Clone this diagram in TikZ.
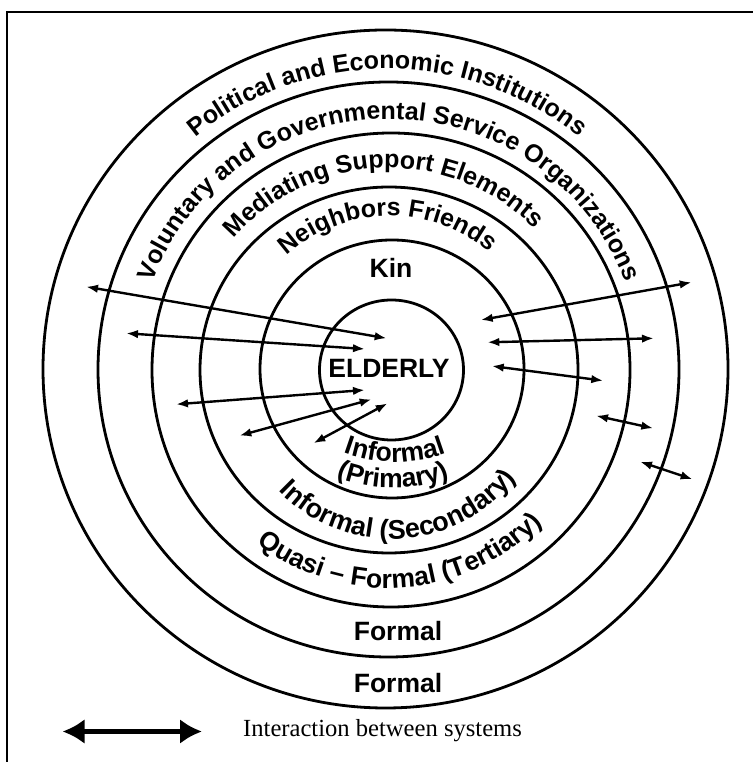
\documentclass[tikz,border=0pt]{standalone}
\usepackage{fontspec}
\setmainfont{Liberation Sans}
\newfontfamily\legendfont{Liberation Serif}
\usetikzlibrary{arrows.meta,decorations.text}

\begin{document}
\begin{tikzpicture}[x=1pt,y=1pt,
  ring/.style={line width=2.8pt},
  link/.style={line width=2.4pt,
    {Latex[length=12pt,width=8.5pt]}-{Latex[length=12pt,width=8.5pt]}},
  lbl/.style={font=\bfseries\fontsize{26.5}{26.5}\selectfont, inner sep=0pt},
  arclabel/.style 2 args={decorate, decoration={text along path, text align=center,
    text={|\bfseries\fontsize{#1}{#1}\selectfont|#2}}},
]
\useasboundingbox (0,0) rectangle (753,762);

% frame (top and left edges)
\draw[line width=2.2pt] (7,0) -- (7,750) -- (753,750);

% the six nested systems
\draw[ring] (385.5,393) ellipse [x radius=342.5, y radius=339];
\draw[ring] (388.5,392.5) ellipse [x radius=290.5, y radius=287.5];
\draw[ring] (391,392) ellipse [x radius=239, y radius=237];
\draw[ring] (389,392) ellipse [x radius=189, y radius=183];
\draw[ring] (392,393) ellipse [x radius=132, y radius=129];
\draw[ring] (391.5,392) ellipse [x radius=72, y radius=70];

% curved labels, upper half
\path[arclabel={25}{Political and Economic Institutions}]
  (387,393) ++(200:302 and 300) arc[start angle=200, end angle=-20, x radius=302, y radius=300];
\path[arclabel={25}{Voluntary and Governmental Service Organizations}]
  (389,393) ++(220:252 and 250) arc[start angle=220, end angle=-40, x radius=252, y radius=250];
\path[arclabel={25}{Mediating Support Elements}]
  (389,393) ++(202:203 and 201) arc[start angle=202, end angle=-18, x radius=203, y radius=201];
\path[arclabel={25}{Neighbors Friends}]
  (390,393) ++(201:153) arc[start angle=201, end angle=-19, radius=153];

% curved labels, lower half
\path[arclabel={26.5}{Informal}]
  (395,448) ++(200:148) arc[start angle=200, end angle=340, radius=148];
\path[arclabel={26.5}{(Primary)}]
  (393,424) ++(200:150) arc[start angle=200, end angle=340, radius=150];
\path[arclabel={27}{Informal (Secondary)}]
  (392,380) ++(163:157) arc[start angle=163, end angle=383, radius=157];
\path[arclabel={26.5}{Quasi – Formal (Tertiary)}]
  (388,390) ++(164:216) arc[start angle=164, end angle=384, radius=216];

% straight labels
\node[lbl] (kin) at (391,494) {Kin};
\node[lbl] (elderly) at (389,394) {ELDERLY};
\node[lbl] (formalA) at (398,131) {Formal};
\node[lbl] (formalB) at (398,79) {Formal};

% interaction arrows, left side
\coordinate (a1s) at (86,475.3);    \coordinate (a1e) at (386.7,423.7);
\coordinate (a2s) at (126,428.7);   \coordinate (a2e) at (365,413);
\coordinate (a3s) at (176,357.7);   \coordinate (a3e) at (365,372);
\coordinate (a4s) at (239.3,326.3); \coordinate (a4e) at (371.7,362.7);
\coordinate (a5s) at (313.3,318.7); \coordinate (a5e) at (387.7,358.7);
\draw[link] (a1s) -- (a1e);
\draw[link] (a2s) -- (a2e);
\draw[link] (a3s) -- (a3e);
\draw[link] (a4s) -- (a4e);
\draw[link] (a5s) -- (a5e);

% interaction arrows, right side
\coordinate (b1s) at (480.7,442);   \coordinate (b1e) at (691.7,479.7);
\coordinate (b2s) at (487.3,419.7); \coordinate (b2e) at (654,423.7);
\coordinate (b3s) at (491.7,396);   \coordinate (b3e) at (603.3,381.3);
\coordinate (b4s) at (596,346.3);   \coordinate (b4e) at (653.3,333.7);
\coordinate (b5s) at (640,300.3);   \coordinate (b5e) at (692.7,282.7);
\draw[link] (b1s) -- (b1e);
\draw[link] (b2s) -- (b2e);
\draw[link] (b3s) -- (b3e);
\draw[link] (b4s) -- (b4e);
\draw[link] (b5s) -- (b5e);

% legend
\coordinate (legS) at (62.5,30.5);
\coordinate (legE) at (202,30.5);
\draw[line width=5pt, {Latex[length=22pt,width=25pt]}-{Latex[length=22pt,width=25pt]}] (legS) -- (legE);
\node[anchor=west, inner sep=0pt, font=\legendfont\fontsize{24.6}{24.6}\selectfont] (legtext) at (243,31) {Interaction between systems};
\end{tikzpicture}
\end{document}
